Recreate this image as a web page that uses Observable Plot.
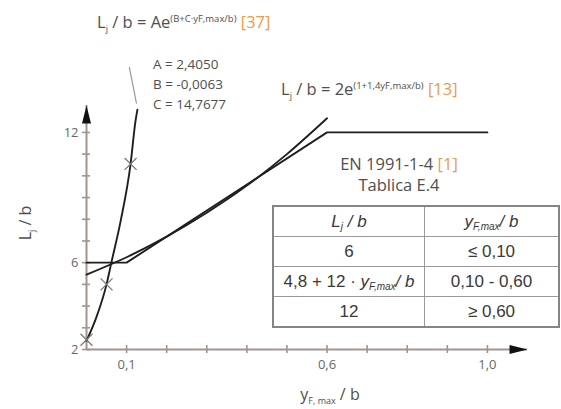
<!DOCTYPE html>
<html><head><meta charset="utf-8">
<script src="https://cdn.jsdelivr.net/npm/d3@7"></script>
<script src="https://cdn.jsdelivr.net/npm/@observablehq/plot@0.6"></script>
<style>
body{margin:0;background:#fff;}
#wrap{position:relative;width:561px;height:409px;overflow:hidden;background:#fff;}
#tbl{position:absolute;left:272px;top:205px;width:288px;border-collapse:collapse;font-family:"Liberation Sans",Arial,sans-serif;font-size:17px;color:#3a3a3a;background:#fff;border:2px solid #858585;}
#tbl td{border:1px solid #9a9a9a;text-align:center;padding:0;height:29px;line-height:29px;white-space:nowrap;}
#tbl sub{font-size:10px;vertical-align:-3px;line-height:0;}
</style></head><body><div id="wrap"></div>
<script>
// ---- data ----
const xTicks = [0.1, 0.2, 0.3, 0.4, 0.5, 0.6, 0.7, 0.8, 0.9, 1.0];
const xLabelValues = [0.1, 0.6, 1.0];
const xLabelTexts = ["0,1", "0,6", "1,0"];
const yTicks = [2, 3, 4, 5, 6, 7, 8, 9, 10, 11, 12];
const yLabelValues = [2, 6, 12];
const yLabelTexts = ["2", "6", "12"];

// EN 1991-1-4 piecewise
const ecX = [0, 0.1, 0.6, 1.0];
const ecY = [6, 6, 12, 12];
// L/b = 2e^(1+1.4y) [13]
const expX = [0, 0.1, 0.2, 0.3, 0.4, 0.5, 0.6];
const expY = [5.45, 6.25, 7.2, 8.3, 9.55, 11.0, 12.65];
// L/b = Ae^(B+Cy) [37]
const steepX = [0, 0.025, 0.05, 0.062, 0.085, 0.11, 0.122, 0.127];
const steepY = [2.4, 3.5, 5.0, 6.0, 7.9, 10.55, 12.5, 13.05];
// measured points (crosses)
const crossX = [0, 0.05, 0.11];
const crossY = [2.45, 5.0, 10.55];
// leader line toward the coefficients
const leaderX = [0.1245, 0.107];
const leaderY = [13.35, 15.0];

const tableCol1 = ["<i>L<sub>j</sub> / b</i>", "6", "4,8 + 12 · <i>y<sub>F,max</sub>/ b</i>", "12"];
const tableCol2 = ["<i>y<sub>F,max</sub>/ b</i>", "≤ 0,10", "0,10 - 0,60", "≥ 0,60"];

// ---- styles ----
const axisGray = "#a0958f";
const textGray = "#4f4f4f";
const tickText = "#686868";
const orange = "#ef9a45";
const curveCol = "#1f1f1f";
const font = "'Open Sans', 'Noto Sans', sans-serif";

const pts = (xs, ys) => xs.map((x, i) => ({x, y: ys[i]}));

const arrowHead = {
  draw(ctx) { ctx.moveTo(0, 0); ctx.lineTo(-4.5, 18); ctx.lineTo(4.5, 18); ctx.closePath(); }
};

const xMax = 1.1, yMin = 2, yMax = 13.24;

const chart = Plot.plot({
  width: 561,
  height: 409,
  marginLeft: 86,
  marginRight: 34,
  marginTop: 105,
  marginBottom: 60,
  style: {fontFamily: font, background: "transparent"},
  x: {domain: [0, xMax]},
  y: {domain: [yMin, yMax]},
  marks: [
    Plot.ruleY([yMin], {x1: 0, x2: xMax, stroke: axisGray, strokeWidth: 2}),
    Plot.ruleX([0], {y1: yMin, y2: yMax, stroke: axisGray, strokeWidth: 2}),
    Plot.axisX({ticks: xTicks, tickSize: 8, dy: -4, tickFormat: () => "", label: null, color: axisGray, strokeWidth: 1.6}),
    Plot.axisY({ticks: yTicks, tickSize: 8, dx: 4, tickFormat: () => "", label: null, color: axisGray, strokeWidth: 1.6}),
    Plot.axisX({ticks: xLabelValues, tickSize: 0, tickPadding: 10, label: null, tickFormat: (d) => xLabelTexts[xLabelValues.indexOf(d)], color: tickText, fontSize: 13}),
    Plot.axisY({ticks: yLabelValues, tickSize: 0, tickPadding: 8, label: null, tickFormat: (d) => yLabelTexts[yLabelValues.indexOf(d)], color: tickText, fontSize: 13}),
    Plot.line(pts(leaderX, leaderY), {x: "x", y: "y", stroke: "#9a9a9a", strokeWidth: 1.2}),
    Plot.line(pts(ecX, ecY), {x: "x", y: "y", stroke: curveCol, strokeWidth: 1.9}),
    Plot.line(pts(expX, expY), {x: "x", y: "y", curve: "monotone-x", stroke: curveCol, strokeWidth: 1.9}),
    Plot.line(pts(steepX, steepY), {x: "x", y: "y", curve: "monotone-x", stroke: curveCol, strokeWidth: 1.9}),
    Plot.dot(pts(crossX, crossY), {x: "x", y: "y", symbol: "times", r: 5.5, stroke: "#7a7a7a", strokeWidth: 1.3}),
    Plot.dot([{x: xMax, y: yMin}], {x: "x", y: "y", symbol: arrowHead, rotate: 90, fill: "#111", stroke: "none"}),
    Plot.dot([{x: 0, y: yMax}], {x: "x", y: "y", symbol: arrowHead, fill: "#111", stroke: "none"})
  ]
});

const wrap = document.getElementById("wrap");
wrap.appendChild(chart);

// ---- rich text annotations ----
const svg = d3.select(chart);
function rich(x, y, parts, o = {}) {
  const t = svg.append("text")
    .attr("x", x).attr("y", y)
    .attr("font-family", font)
    .attr("font-size", o.size || 16)
    .attr("fill", o.fill || textGray)
    .attr("text-anchor", o.anchor || "start");
  if (o.rotate) t.attr("transform", `rotate(${o.rotate},${x},${y})`);
  let cur = 0;
  for (const p of parts) {
    const shift = p.shift || 0;
    const ts = t.append("tspan").attr("dy", shift - cur).text(p.t);
    if (p.size) ts.attr("font-size", p.size);
    if (p.fill) ts.attr("fill", p.fill);
    cur = shift;
  }
  return t;
}

rich(97, 28, [
  {t: "L"}, {t: "j", size: 9, shift: 4}, {t: " / b = Ae"},
  {t: "(B+C·yF,max/b)", size: 9.5, shift: -6}, {t: " "},
  {t: "[37]", fill: orange}
], {size: 16.5});
rich(153, 69, [{t: "A = 2,4050"}], {size: 13.5});
rich(153, 89, [{t: "B = -0,0063"}], {size: 13.5});
rich(153, 109, [{t: "C = 14,7677"}], {size: 13.5});
rich(281, 95, [
  {t: "L"}, {t: "j", size: 9, shift: 4}, {t: " / b = 2e"},
  {t: "(1+1,4yF,max/b)", size: 9.5, shift: -6}, {t: " "},
  {t: "[13]", fill: orange}
], {size: 16.5});
rich(399, 170, [{t: "EN 1991-1-4 "}, {t: "[1]", fill: orange}], {anchor: "middle", size: 16.5});
rich(399, 191, [{t: "Tablica E.4"}], {anchor: "middle", size: 16.5});
rich(330, 400, [{t: "y"}, {t: "F, max", size: 9, shift: 4}, {t: " / b"}], {anchor: "middle", size: 16});
rich(31, 223, [{t: "L"}, {t: "j", size: 9, shift: 4}, {t: " / b"}], {anchor: "middle", size: 16, rotate: -90});

// ---- table ----
const tbl = document.createElement("table");
tbl.id = "tbl";
tableCol1.forEach((c1, i) => {
  const tr = document.createElement("tr");
  const a = document.createElement("td"); a.innerHTML = c1; a.style.width = "150px";
  const b = document.createElement("td"); b.innerHTML = tableCol2[i];
  tr.appendChild(a); tr.appendChild(b); tbl.appendChild(tr);
});
wrap.appendChild(tbl);
</script></body></html>
